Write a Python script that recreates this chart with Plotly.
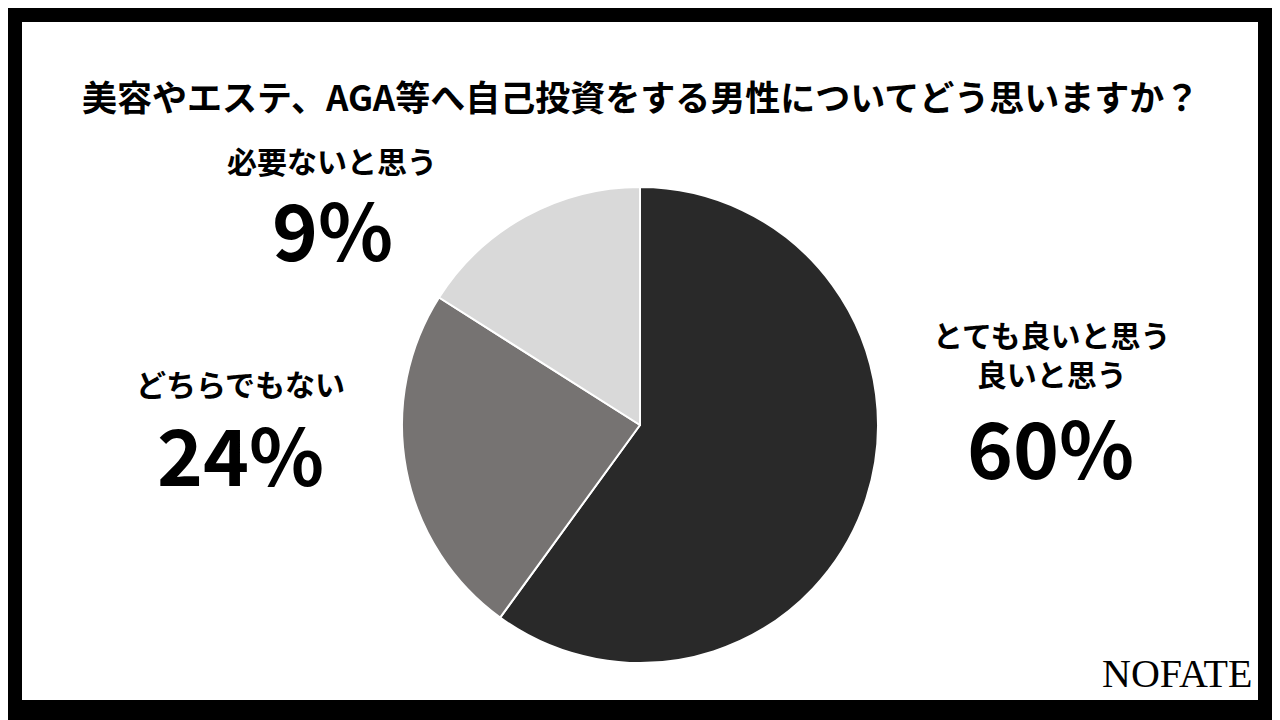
import plotly.graph_objects as go

categories = ["とても良いと思う\n良いと思う", "どちらでもない", "必要ないと思う"]
slice_values = [60, 24, 16]
label_percents = ["60%", "24%", "9%"]
colors = ["#292929", "#767372", "#d9d9d9"]

W, H = 1280, 720
OFF = 8  # page offset compensation
def px(x): return (x - OFF) / W
def py(y): return 1 - (y - OFF) / H

fig = go.Figure(go.Pie(
    values=slice_values, labels=categories, sort=False, direction="clockwise",
    rotation=0, marker=dict(colors=colors, line=dict(color="white", width=2)),
    textinfo="none", hoverinfo="label", showlegend=False,
    domain=dict(x=[px(640-238), px(640+238)], y=[py(663), py(187)]),
))

font = "Noto Sans CJK JP"
anns = [
    dict(x=640, y=95, text="<b>美容やエステ、AGA等へ自己投資をする男性についてどう思いますか？</b>", size=35),
    dict(x=1052, y=353, text="<b>とても良いと思う<br>良いと思う</b>", size=30),
    dict(x=1050, y=445, text="<b>60%</b>", size=78),
    dict(x=240, y=383, text="<b>どちらでもない</b>", size=30),
    dict(x=240, y=452, text="<b>24%</b>", size=78),
    dict(x=332, y=160, text="<b>必要ないと思う</b>", size=30),
    dict(x=332, y=227, text="<b>9%</b>", size=78),
]
annotations = [dict(xref="paper", yref="paper", x=px(a["x"]), y=py(a["y"]), text=a["text"],
                    showarrow=False, xanchor="center", yanchor="middle",
                    font=dict(family=font, size=a["size"], color="black"))
               for a in anns]
annotations.append(dict(xref="paper", yref="paper", x=px(1254), y=py(673), text="NOFATE",
                        showarrow=False, xanchor="right", yanchor="middle",
                        font=dict(family="Liberation Serif", size=40, color="black")))

fig.update_layout(
    width=W, height=H, margin=dict(l=0, r=0, t=0, b=0),
    paper_bgcolor="black", plot_bgcolor="white",
    shapes=[dict(type="rect", xref="paper", yref="paper", x0=px(22), x1=px(1258),
                 y0=py(700), y1=py(22), fillcolor="white", line=dict(width=0), layer="below")],
    annotations=annotations,
)
fig.write_html("out.html")
